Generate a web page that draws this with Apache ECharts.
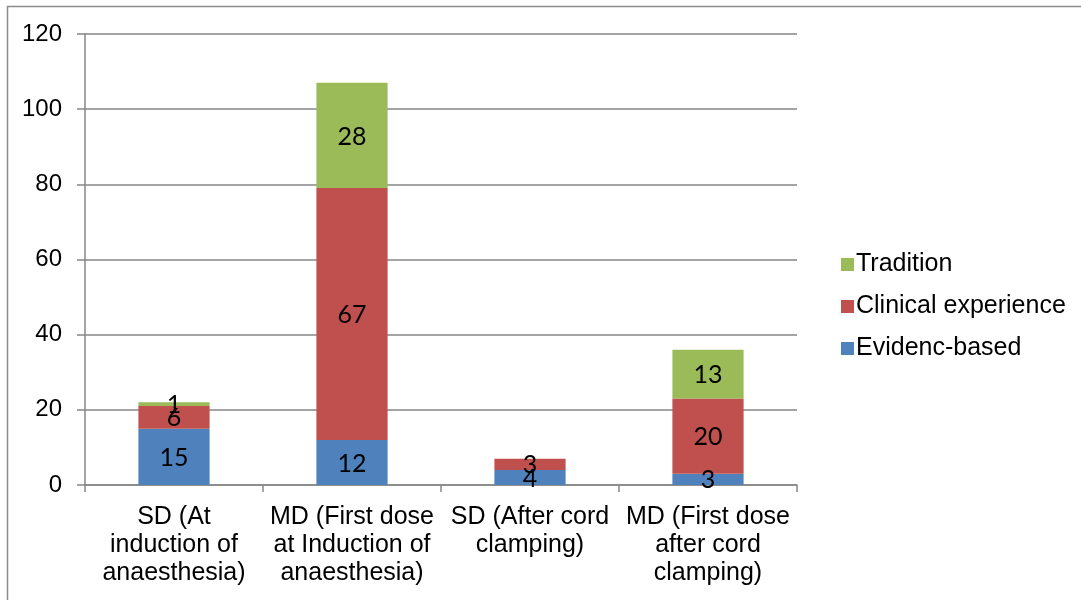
<!DOCTYPE html>
<html><head><meta charset="utf-8">
<script src="https://cdn.jsdelivr.net/npm/echarts@6/dist/echarts.min.js"></script>
<style>html,body{margin:0;padding:0;background:#fff}#c{width:1081px;height:600px}</style>
</head><body><div id="c"></div>
<script>
var categories = ['SD (At\ninduction of\nanaesthesia)', 'MD (First dose\nat Induction of\nanaesthesia)', 'SD (After cord\nclamping)', 'MD (First dose\nafter cord\nclamping)'];
var evidence = [15, 12, 4, 3];
var clinical = [6, 67, 3, 20];
var tradition = [1, 28, null, 13];
var yTicks = [0, 20, 40, 60, 80, 100, 120];

var chart = echarts.init(document.getElementById('c'));
var lbl = {show: true, position: 'inside', color: '#000', fontFamily: '"Liberation Sans Narrow", Lato, sans-serif', fontSize: 25, offset: [0, 1]};
function s(name, data, color) {
  return {name: name, type: 'bar', stack: 'a', data: data, barWidth: '40%',
    itemStyle: {color: color}, label: lbl, emphasis: {disabled: true}};
}
chart.setOption({
  animation: false,
  graphic: [{type: 'rect', shape: {x: 7.5, y: 6.5, width: 1100, height: 700}, style: {fill: 'none', stroke: '#8c8c8c', lineWidth: 1.5}}],
  grid: {left: 85, right: 284, top: 34, bottom: 115},
  legend: {
    data: ['Tradition', 'Clinical experience', 'Evidenc-based'],
    orient: 'vertical', left: 836, top: 247, itemGap: 17, itemWidth: 13, itemHeight: 13, icon: 'rect',
    textStyle: {fontFamily: '"Liberation Sans", Arial, sans-serif', fontSize: 25, color: '#000', padding: [0, 0, 0, -3]}
  },
  xAxis: {
    type: 'category', data: categories,
    axisLine: {lineStyle: {color: '#868686', width: 1.5}},
    axisTick: {show: true, length: 7, lineStyle: {color: '#868686', width: 1.5}},
    axisLabel: {color: '#000', fontFamily: '"Liberation Sans", Arial, sans-serif', fontSize: 25, lineHeight: 28, margin: 18, interval: 0}
  },
  yAxis: {
    type: 'value', min: yTicks[0], max: yTicks[yTicks.length - 1], interval: 20,
    axisLine: {show: true, lineStyle: {color: '#868686', width: 1.5}},
    axisTick: {show: true, length: 8, lineStyle: {color: '#868686', width: 1.5}},
    splitLine: {lineStyle: {color: '#868686', width: 1.5}},
    axisLabel: {color: '#000', fontFamily: '"Liberation Sans", Arial, sans-serif', fontSize: 24, margin: 23}
  },
  series: [
    s('Evidenc-based', evidence, '#4F81BD'),
    s('Clinical experience', clinical, '#C0504D'),
    s('Tradition', tradition, '#9BBB59')
  ]
});
</script></body></html>
